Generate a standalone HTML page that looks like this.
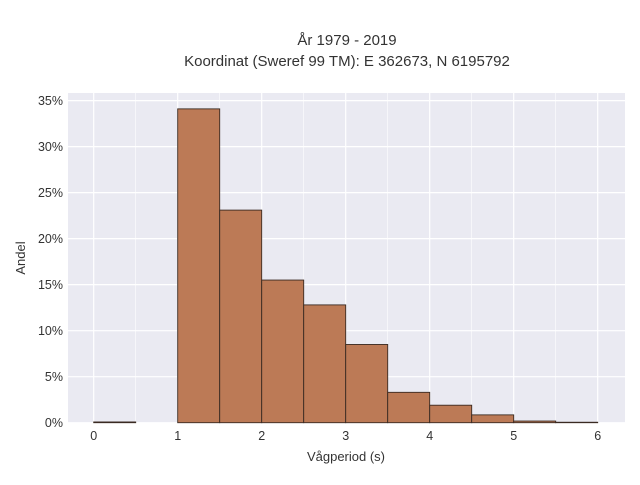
<!DOCTYPE html>
<html><head><meta charset="utf-8"><style>
body{margin:0;background:#fff;}
text{font-family:"Liberation Sans",sans-serif;fill:#333;}
</style></head><body>
<svg id="chart" width="640" height="480" xmlns="http://www.w3.org/2000/svg">
<text x="347" y="45" font-size="15" text-anchor="middle">År 1979 - 2019</text>
<text x="347" y="66" font-size="15" text-anchor="middle">Koordinat (Sweref 99 TM): E 362673, N 6195792</text>
<rect x="68" y="93" width="557" height="330" fill="#eaeaf2"/>
<g id="grid"></g>
<g id="bars"></g>
<g id="ticks"></g>
<text x="346" y="461" font-size="13" text-anchor="middle">Vågperiod (s)</text>
<text x="25" y="258" font-size="13" text-anchor="middle" transform="rotate(-90 25 258)">Andel</text>
</svg>
<script>
const binStarts=[0,0.5,1,1.5,2,2.5,3,3.5,4,4.5,5,5.5];
const binWidth=0.5;
const shares=[0.08,0,34.1,23.1,15.5,12.8,8.5,3.3,1.9,0.85,0.18,0.05];
const xTicks=[0,1,2,3,4,5,6];
const yTicks=[0,5,10,15,20,25,30,35];
const NS="http://www.w3.org/2000/svg";
const xs=v=>93.7+v*84;
const ys=v=>422.7-v*9.203;
const grid=document.getElementById('grid'),bars=document.getElementById('bars'),ticks=document.getElementById('ticks');
function mk(tag,attrs,parent){const e=document.createElementNS(NS,tag);for(const k in attrs)e.setAttribute(k,attrs[k]);parent.appendChild(e);return e;}
for(let v=0;v<=6;v+=0.5){const l=mk('line',{x1:xs(v),x2:xs(v),y1:93,y2:423,stroke:'#fff','stroke-width':v%1===0?1.2:0.6},grid);

}
yTicks.forEach(v=>{const l=mk('line',{x1:68,x2:625,y1:ys(v),y2:ys(v),stroke:'#fff','stroke-width':1.2},grid);


const t=mk('text',{x:63,y:ys(v)+4.5,'font-size':12.5,'text-anchor':'end'},ticks);t.textContent=v+'%';

});
xTicks.forEach(v=>{const t=mk('text',{x:xs(v),y:440,'font-size':12.5,'text-anchor':'middle'},ticks);t.textContent=v;

});
binStarts.forEach((s,i)=>{if(shares[i]<=0)return;const y=ys(shares[i]);
const r=mk('rect',{x:xs(s),y:y,width:binWidth*84,height:422.7-y,fill:'#bc7a56',stroke:'#3a2a22','stroke-width':0.9},bars);

});
</script>
</body></html>
